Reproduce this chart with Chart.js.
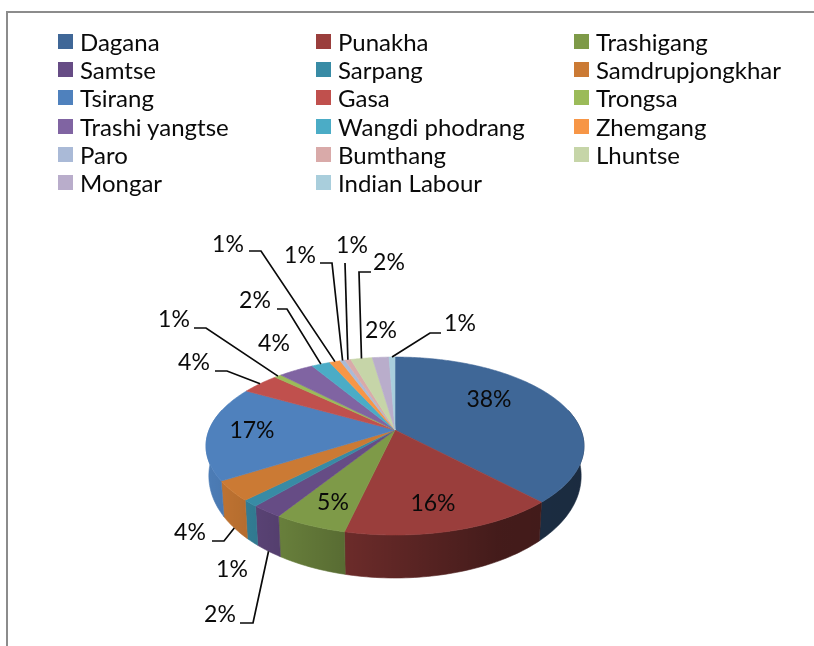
<!DOCTYPE html>
<html>
<head>
<meta charset="utf-8">
<script src="https://cdn.jsdelivr.net/npm/chart.js@4"></script>
<style>
  html, body { margin: 0; padding: 0; background: #fff; }
  #wrap { position: relative; width: 814px; height: 646px; overflow: hidden; font-family: Lato, sans-serif; }
  #frame { position: absolute; left: 6px; top: 11px; width: 820px; height: 650px; border-top: 2px solid #8c8c8c; border-left: 2px solid #8c8c8c; }
  canvas { position: absolute; left: 0; top: 0; }
  .key { position: absolute; font-size: 24px; line-height: 28px; color: #0a0a0a; white-space: nowrap; }
  .key i { position: absolute; left: -22px; top: 6px; width: 15px; height: 15px; }
</style>
</head>
<body>
<div id="wrap">
  <div id="frame"></div>
  <canvas id="pie" width="814" height="646"></canvas>
  <div id="legend"></div>
</div>
<script>
const districts = ['Dagana', 'Punakha', 'Trashigang', 'Samtse', 'Sarpang', 'Samdrupjongkhar', 'Tsirang', 'Gasa', 'Trongsa',
  'Trashi yangtse', 'Wangdi phodrang', 'Zhemgang', 'Paro', 'Bumthang', 'Lhuntse', 'Mongar', 'Indian Labour'];
const shares = [38, 15.6, 5.3, 2.3, 1.2, 3.6, 17.2, 3.9, 0.7, 3.6, 1.9, 1.1, 0.5, 0.6, 2.2, 1.7, 0.6];
const colors = ['#3f6797', '#9a3e3c', '#7e9a48', '#664c85', '#388ba5', '#cb7a34', '#4f81bd', '#c0504d', '#9bbb59',
  '#8064a2', '#4bacc6', '#f79646', '#aabad7', '#d9aaa9', '#c6d5a8', '#b9adcb', '#a9cedc'];

// where the data labels sit, in the same order as districts
// x, y is the text, line is the leader up to where it meets the slice
const callouts = [
  { x: 489, y: 400 },
  { x: 433, y: 504 },
  { x: 333, y: 503 },
  { x: 220, y: 615, line: [[240, 623], [253, 623]], wall: true },
  { x: 232, y: 570 },
  { x: 190, y: 533, line: [[212, 541], [224, 541]], wall: true },
  { x: 252, y: 431 },
  { x: 194, y: 363, line: [[215, 371], [227, 371]] },
  { x: 174, y: 320, line: [[194, 328], [206, 328]] },
  { x: 274, y: 344 },
  { x: 255, y: 301, line: [[277, 309], [287, 309]] },
  { x: 228, y: 245, line: [[249, 251], [261, 251]] },
  { x: 300, y: 256, line: [[320, 263], [332, 263]] },
  { x: 352, y: 246, line: [[345, 263]] },
  { x: 389, y: 263, line: [[371, 272], [359, 272]] },
  { x: 381, y: 331 },
  { x: 460, y: 324, line: [[441, 333], [430, 333]] }
];

// the pie is seen at a tilt, so the apex is above the middle of the ellipse
const view = { x: 395, y: 430, a: 185.9, b: 86.1, k: 0.18, depth: 27, depthFront: 16, shrink: 0.985 };

function project(theta, r) {
  const u = Math.sin(theta) * r, v = -Math.cos(theta) * r;
  const d = 1 - view.k * v;
  return [view.x + view.a * u / d, view.y + view.b * v / d];
}

// wall is shallower at the sides than at the front
function lower(theta) {
  const p = project(theta, 1);
  const v = Math.max(0, -Math.cos(theta));
  return [view.x + (p[0] - view.x) * view.shrink, p[1] + view.depth + view.depthFront * v];
}

function elementTheta(el) {
  return [el.startAngle + Math.PI / 2, el.endAngle + Math.PI / 2];
}

const tiltedPie = {
  id: 'tiltedPie',
  beforeDatasetsDraw(chart) {
    const ctx = chart.ctx;
    const arcs = chart.getDatasetMeta(0).data;

    // side wall first, the top face covers whatever is behind it
    arcs.forEach((el, i) => {
      const [from, to] = elementTheta(el);
      const steps = Math.max(2, Math.ceil((to - from) / 0.02));
      ctx.beginPath();
      let started = false;
      const back = [];
      for (let s = 0; s <= steps; s++) {
        const t = from + (to - from) * s / steps;
        if (-Math.cos(t) < -0.25) continue;
        const p = project(t, 1);
        if (!started) { ctx.moveTo(p[0], p[1]); started = true; } else ctx.lineTo(p[0], p[1]);
        back.unshift(lower(t));
      }
      if (!started) return;
      back.forEach(p => ctx.lineTo(p[0], p[1]));
      ctx.closePath();
      ctx.fillStyle = colors[i];
      ctx.strokeStyle = colors[i];
      ctx.lineWidth = 0.6;
      ctx.fill();
      ctx.stroke();
    });

    // darken the wall from left to right, only the wall is on the canvas so far
    const shade = ctx.createLinearGradient(view.x - 190, 0, view.x + 190, 0);
    shade.addColorStop(0, 'rgba(0,0,0,0.03)');
    shade.addColorStop(0.37, 'rgba(0,0,0,0.3)');
    shade.addColorStop(0.77, 'rgba(0,0,0,0.56)');
    shade.addColorStop(1, 'rgba(0,0,0,0.58)');
    ctx.save();
    ctx.globalCompositeOperation = 'source-atop';
    ctx.fillStyle = shade;
    ctx.fillRect(0, 0, chart.width, chart.height);
    ctx.restore();

    // top face
    arcs.forEach((el, i) => {
      const [from, to] = elementTheta(el);
      const steps = Math.max(2, Math.ceil((to - from) / 0.01));
      ctx.beginPath();
      ctx.moveTo(view.x, view.y);
      for (let s = 0; s <= steps; s++) {
        const p = project(from + (to - from) * s / steps, 1);
        ctx.lineTo(p[0], p[1]);
      }
      ctx.closePath();
      ctx.fillStyle = colors[i];
      ctx.strokeStyle = colors[i];
      ctx.lineWidth = 0.6;
      ctx.fill();
      ctx.stroke();
    });
    return false;
  },
  // returning false above also skips afterDatasetsDraw, so the labels go here
  afterDraw(chart) {
    const ctx = chart.ctx;
    const arcs = chart.getDatasetMeta(0).data;
    const total = shares.reduce((a, b) => a + b, 0);
    ctx.strokeStyle = '#0a0a0a';
    ctx.lineWidth = 1.7;
    ctx.fillStyle = '#0a0a0a';
    ctx.font = '23px Lato, sans-serif';
    ctx.textAlign = 'center';
    ctx.textBaseline = 'middle';
    arcs.forEach((el, i) => {
      const c = callouts[i];
      if (c.line) {
        const [from, to] = elementTheta(el);
        const mid = (from + to) / 2;
        const end = c.wall ? lower(mid) : project(mid, 1);
        ctx.beginPath();
        ctx.moveTo(c.line[0][0], c.line[0][1]);
        c.line.slice(1).forEach(p => ctx.lineTo(p[0], p[1]));
        ctx.lineTo(end[0], end[1]);
        ctx.stroke();
      }
      ctx.fillText(Math.round(shares[i] / total * 100) + '%', c.x, c.y);
    });
  }
};

new Chart(document.getElementById('pie'), {
  type: 'pie',
  data: {
    labels: districts,
    datasets: [{ data: shares, backgroundColor: colors, borderWidth: 0 }]
  },
  options: {
    responsive: false,
    animation: false,
    plugins: { legend: { display: false }, tooltip: { enabled: false } }
  },
  plugins: [tiltedPie]
});

// legend: three columns, filled row by row
const legendColumns = [80, 338, 596];
const legendTop = 28;
const legendRow = 28.2;
const legend = document.getElementById('legend');
districts.forEach((name, i) => {
  const key = document.createElement('div');
  key.className = 'key';
  key.style.left = legendColumns[i % 3] + 'px';
  key.style.top = (legendTop + Math.floor(i / 3) * legendRow) + 'px';
  key.textContent = name;
  const swatch = document.createElement('i');
  swatch.style.background = colors[i];
  key.appendChild(swatch);
  legend.appendChild(key);
});
</script>
</body>
</html>
